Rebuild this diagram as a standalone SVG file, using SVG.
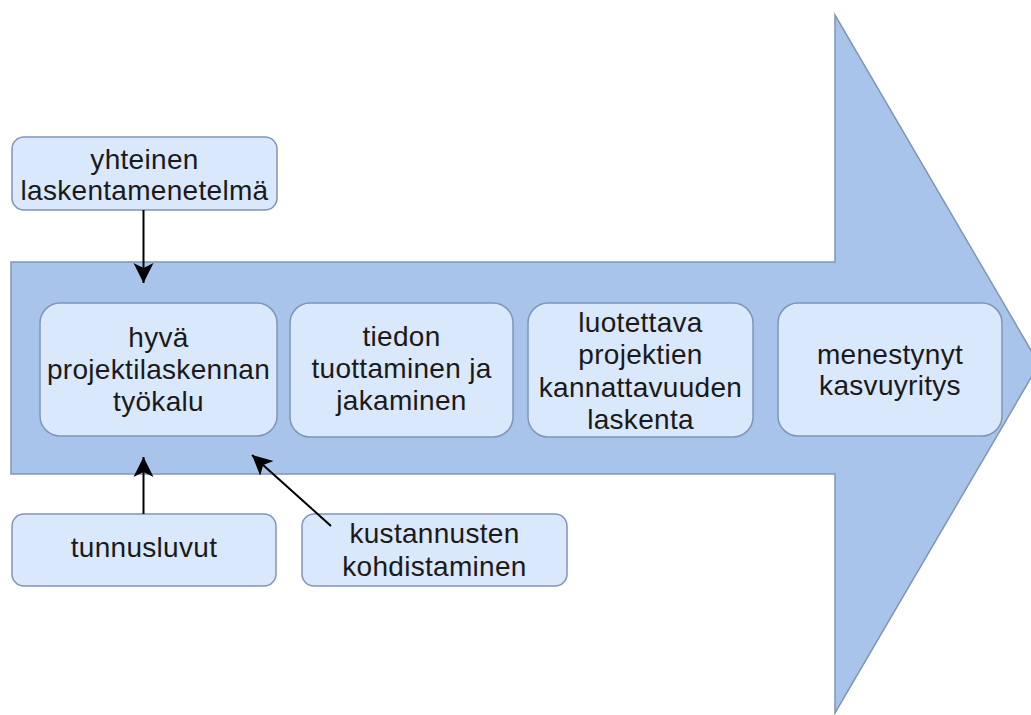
<svg xmlns="http://www.w3.org/2000/svg" width="1031" height="715" viewBox="0 0 1031 715">
  <defs>
    <style>
      .box { fill: #dae8fc; stroke: #7f95b8; stroke-width: 1.5; }
      .big { fill: #a9c4eb; stroke: #7f95b8; stroke-width: 1.5; }
      .lbl { font-family: "Liberation Sans", Arial, sans-serif; font-size: 28px; letter-spacing: 0.3px; fill: #1a1a1a; text-anchor: middle; }
      .conn { stroke: #000; stroke-width: 2; fill: none; }
    </style>
    <marker id="ah" markerUnits="userSpaceOnUse" markerWidth="22" markerHeight="22" viewBox="0 0 22 22" refX="20" refY="11" orient="auto">
      <path d="M0,1 L20,11 L0,21 L5,11 Z" fill="#000"/>
    </marker>
  </defs>
  <rect width="1031" height="715" fill="#ffffff"/>
  <g id="big-arrow">
    <polygon class="big" points="11,262 835,262 835,15 1039,364 835,713 835,474 11,474"/>
  </g>
  <g id="node-yhteinen">
    <rect class="box" x="12" y="137" width="265" height="73" rx="12"/>
    <text class="lbl" x="144.5" y="169">yhteinen</text>
    <text class="lbl" x="144.5" y="200">laskentamenetelmä</text>
  </g>
  <g id="node-hyva">
    <rect class="box" x="40" y="303" width="237" height="133" rx="20"/>
    <text class="lbl" x="158.5" y="347">hyvä</text>
    <text class="lbl" x="158.5" y="379">projektilaskennan</text>
    <text class="lbl" x="158.5" y="411">työkalu</text>
  </g>
  <g id="node-tiedon">
    <rect class="box" x="290" y="303" width="223" height="134" rx="20"/>
    <text class="lbl" x="401.5" y="346">tiedon</text>
    <text class="lbl" x="401.5" y="378">tuottaminen ja</text>
    <text class="lbl" x="401.5" y="410">jakaminen</text>
  </g>
  <g id="node-luotettava">
    <rect class="box" x="528" y="303" width="225" height="134" rx="20"/>
    <text class="lbl" x="640.5" y="332">luotettava</text>
    <text class="lbl" x="640.5" y="364">projektien</text>
    <text class="lbl" x="640.5" y="397">kannattavuuden</text>
    <text class="lbl" x="640.5" y="429">laskenta</text>
  </g>
  <g id="node-menestynyt">
    <rect class="box" x="778" y="303" width="224" height="133" rx="20"/>
    <text class="lbl" x="890" y="364">menestynyt</text>
    <text class="lbl" x="890" y="395">kasvuyritys</text>
  </g>
  <g id="node-tunnusluvut">
    <rect class="box" x="12" y="514" width="264" height="72" rx="12"/>
    <text class="lbl" x="144" y="557">tunnusluvut</text>
  </g>
  <g id="node-kustannusten">
    <rect class="box" x="302" y="514" width="265" height="72" rx="12"/>
    <text class="lbl" x="434.5" y="543">kustannusten</text>
    <text class="lbl" x="434.5" y="576">kohdistaminen</text>
  </g>
  <g id="connectors">
    <line class="conn" x1="143.5" y1="210" x2="143.5" y2="283" marker-end="url(#ah)"/>
    <line class="conn" x1="143.5" y1="514" x2="143.5" y2="457" marker-end="url(#ah)"/>
    <line class="conn" x1="331" y1="526" x2="252" y2="455" marker-end="url(#ah)"/>
  </g>
</svg>
